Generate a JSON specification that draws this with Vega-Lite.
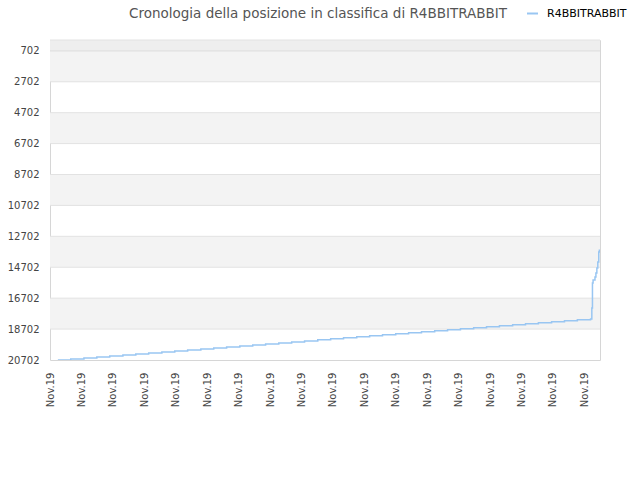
{
  "$schema": "https://vega.github.io/schema/vega-lite/v6.json",
  "width": 550,
  "height": 320,
  "autosize": {"type": "none"},
  "padding": {"left": 50, "top": 40, "right": 40, "bottom": 120},
  "background": "#ffffff",
  "title": {
    "text": "Cronologia della posizione in classifica di R4BBITRABBIT",
    "font": "DejaVu Sans",
    "fontSize": 13.5,
    "fontWeight": "normal",
    "color": "#555555",
    "anchor": "middle",
    "frame": "group",
    "dx": -7,
    "dy": 31,
    "offset": 18
  },
  "datasets": {
    "bands": [
      {"from": 0, "to": 702, "shade": "top"},
      {"from": 702, "to": 2702, "shade": "band"},
      {"from": 4702, "to": 6702, "shade": "band"},
      {"from": 8702, "to": 10702, "shade": "band"},
      {"from": 12702, "to": 14702, "shade": "band"},
      {"from": 16702, "to": 18702, "shade": "band"}
    ],
    "rank": [
      {"t": 0.25, "pos": 20700}, {"t": 0.66, "pos": 20635}, {"t": 1.08, "pos": 20570},
      {"t": 1.49, "pos": 20505}, {"t": 1.90, "pos": 20440}, {"t": 2.32, "pos": 20375},
      {"t": 2.73, "pos": 20310}, {"t": 3.14, "pos": 20245}, {"t": 3.56, "pos": 20180},
      {"t": 3.97, "pos": 20115}, {"t": 4.38, "pos": 20050}, {"t": 4.80, "pos": 19985},
      {"t": 5.21, "pos": 19920}, {"t": 5.62, "pos": 19855}, {"t": 6.04, "pos": 19790},
      {"t": 6.45, "pos": 19725}, {"t": 6.86, "pos": 19660}, {"t": 7.28, "pos": 19595},
      {"t": 7.69, "pos": 19530}, {"t": 8.10, "pos": 19465}, {"t": 8.52, "pos": 19400},
      {"t": 8.93, "pos": 19335}, {"t": 9.34, "pos": 19270}, {"t": 9.76, "pos": 19205},
      {"t": 10.17, "pos": 19140}, {"t": 10.58, "pos": 19075}, {"t": 11.00, "pos": 19010},
      {"t": 11.41, "pos": 18945}, {"t": 11.82, "pos": 18880}, {"t": 12.24, "pos": 18815},
      {"t": 12.65, "pos": 18750}, {"t": 13.06, "pos": 18685}, {"t": 13.48, "pos": 18620},
      {"t": 13.89, "pos": 18555}, {"t": 14.30, "pos": 18490}, {"t": 14.72, "pos": 18425},
      {"t": 15.13, "pos": 18360}, {"t": 15.54, "pos": 18295}, {"t": 15.96, "pos": 18230},
      {"t": 16.37, "pos": 18165}, {"t": 16.78, "pos": 18100}, {"t": 17.20, "pos": 18050},
      {"t": 17.24, "pos": 17335}, {"t": 17.26, "pos": 15717}, {"t": 17.28, "pos": 15523},
      {"t": 17.34, "pos": 15329}, {"t": 17.37, "pos": 15070}, {"t": 17.40, "pos": 14746},
      {"t": 17.43, "pos": 14358}, {"t": 17.46, "pos": 13711}, {"t": 17.48, "pos": 13550}
    ]
  },
  "layer": [
    {
      "data": {"name": "bands"},
      "mark": {"type": "rect"},
      "encoding": {
        "y": {"field": "from", "type": "quantitative"},
        "y2": {"field": "to"},
        "color": {
          "field": "shade", "type": "nominal",
          "scale": {"domain": ["top", "band"], "range": ["#eeeeee", "#f3f3f3"]},
          "legend": null
        }
      }
    },
    {
      "data": {"name": "bands"},
      "mark": {"type": "rule", "color": "#e2e2e2", "strokeWidth": 1},
      "encoding": {
        "y": {"field": "to", "type": "quantitative"}
      }
    },
    {
      "data": {"name": "bands"},
      "mark": {"type": "rule", "color": "#e2e2e2", "strokeWidth": 1},
      "encoding": {
        "y": {"field": "from", "type": "quantitative"}
      }
    },
    {
      "data": {"name": "rank"},
      "transform": [{"calculate": "'R4BBITRABBIT'", "as": "player"}],
      "mark": {"type": "line", "interpolate": "step-after", "strokeWidth": 1.5, "clip": true},
      "encoding": {
        "x": {
          "field": "t", "type": "quantitative",
          "scale": {"domain": [0, 17.5], "nice": false, "zero": false},
          "axis": {
            "values": [0, 1, 2, 3, 4, 5, 6, 7, 8, 9, 10, 11, 12, 13, 14, 15, 16, 17],
            "tickCount": 40,
            "labelExpr": "'Nov.19'",
            "labelAngle": -90,
            "labelAlign": "right",
            "labelBaseline": "middle",
            "labelPadding": 12,
            "title": null
          }
        },
        "y": {
          "field": "pos", "type": "quantitative",
          "scale": {"domain": [0, 20702], "reverse": true, "nice": false, "zero": false},
          "axis": {
            "values": [702, 2702, 4702, 6702, 8702, 10702, 12702, 14702, 16702, 18702, 20702],
            "tickCount": 40,
            "format": "d",
            "labelPadding": 11,
            "title": null
          }
        },
        "color": {
          "field": "player", "type": "nominal",
          "scale": {"range": ["#99c6f2"]},
          "legend": {
            "orient": "none",
            "legendX": 476,
            "legendY": -33,
            "title": null,
            "symbolType": "stroke",
            "symbolSize": 120,
            "symbolStrokeWidth": 2,
            "labelOffset": 8,
            "labelFont": "DejaVu Sans",
            "labelFontSize": 11,
            "labelColor": "#000000",
            "labelLimit": 200
          }
        }
      }
    }
  ],
  "resolve": {"scale": {"color": "independent"}},
  "config": {
    "view": {"stroke": "#d6d6d6", "strokeWidth": 1},
    "axis": {
      "labelFont": "DejaVu Sans",
      "labelFontSize": 10,
      "labelColor": "#444444",
      "labelOverlap": false,
      "ticks": false,
      "domain": false,
      "grid": false
    }
  }
}
